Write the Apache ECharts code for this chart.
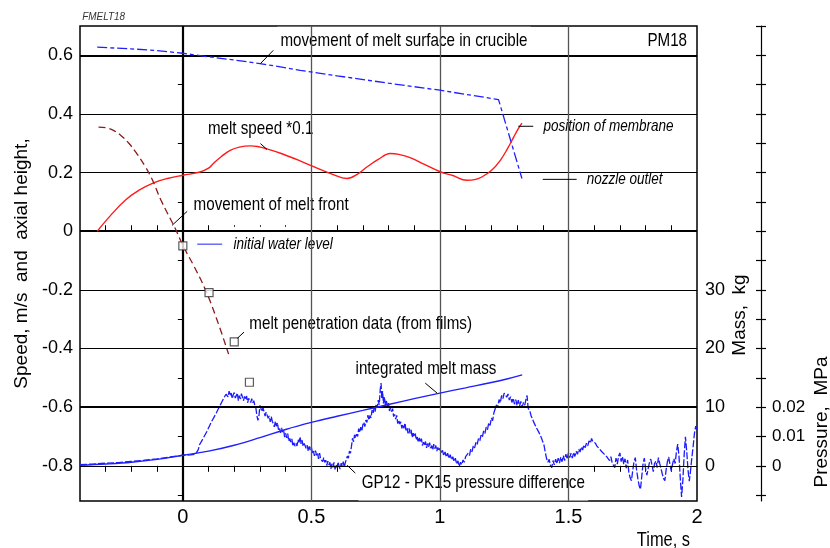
<!DOCTYPE html>
<html>
<head>
<meta charset="utf-8">
<script src="https://cdn.jsdelivr.net/npm/echarts@6/dist/echarts.min.js"></script>
<style>
  html, body { margin: 0; padding: 0; background: #fff; }
  #chart { width: 830px; height: 548px; }
</style>
</head>
<body>
<div id="chart"></div>
<script>
// ---- tick labels ----
const timeTicks = [0, 0.5, 1, 1.5, 2];
const heightTicks = [-0.8, -0.6, -0.4, -0.2, 0, 0.2, 0.4, 0.6];
const massTicks = [0, 10, 20, 30];
const pressureTicks = [0, 0.01, 0.02];

// ---- series: [time s, value] ----
// movement of melt surface in crucible (axial height, m)
const meltSurface = [
  [-0.333, 0.628], [-0.2, 0.622], [-0.1, 0.616], [0, 0.607], [0.1, 0.595], [0.2, 0.584],
  [0.3, 0.572], [0.457, 0.549], [0.6, 0.53], [0.8, 0.505], [1.0, 0.481], [1.228, 0.449],
  [1.319, 0.18]
];
// melt speed * 0.1 (m/s)
const meltSpeed = [
  [-0.333, 0.0], [-0.28, 0.055], [-0.224, 0.106], [-0.17, 0.14], [-0.114, 0.165], [-0.06, 0.18],
  [0, 0.191], [0.067, 0.202], [0.1, 0.215], [0.119, 0.231], [0.15, 0.255], [0.184, 0.276],
  [0.22, 0.287], [0.262, 0.291], [0.29, 0.289], [0.327, 0.281], [0.38, 0.266], [0.456, 0.24],
  [0.52, 0.216], [0.58, 0.195], [0.638, 0.18], [0.68, 0.195], [0.716, 0.219], [0.76, 0.245],
  [0.807, 0.265], [0.84, 0.262], [0.884, 0.251], [0.94, 0.228], [1.001, 0.203], [1.05, 0.19],
  [1.105, 0.174], [1.135, 0.176], [1.163, 0.185], [1.2, 0.207], [1.235, 0.242], [1.265, 0.285],
  [1.287, 0.321], [1.305, 0.35], [1.319, 0.369]
];
// movement of melt front (axial height, m)
const meltFront = [
  [-0.328, 0.355], [-0.3, 0.353], [-0.27, 0.344], [-0.24, 0.326], [-0.21, 0.3], [-0.18, 0.266],
  [-0.15, 0.226], [-0.12, 0.178], [-0.085, 0.106], [-0.03, 0.01], [0, -0.048], [0.045, -0.122],
  [0.087, -0.198], [0.13, -0.295], [0.178, -0.419]
];
// melt penetration data from films (axial height, m)
const filmPoints = [[0.0, -0.05], [0.102, -0.209], [0.2, -0.377], [0.259, -0.515]];
// integrated melt mass (kg)
const meltMass = [
  [-0.4, 0.1], [-0.3, 0.3], [-0.2, 0.6], [-0.1, 1.1], [0, 1.8], [0.1, 2.5], [0.2, 3.5],
  [0.3, 4.8], [0.4, 6.2], [0.5, 7.4], [0.6, 8.45], [0.7, 9.45], [0.8, 10.45], [0.9, 11.45],
  [1.0, 12.4], [1.1, 13.3], [1.2, 14.2], [1.26, 14.8], [1.32, 15.5]
];
// GP12 - PK15 pressure difference (MPa)
const pressureDiff = [
  [-0.40,0.0004],[-0.35,0.0006],[-0.30,0.0009],[-0.25,0.0011],[-0.20,0.0015],[-0.15,0.0019],
  [-0.10,0.0024],[-0.05,0.0030],[0.00,0.0036],[0.03,0.0037],[0.05,0.0040],[0.06,0.0055],
  [0.065,0.0072],[0.08,0.0095],[0.093,0.0116],[0.11,0.0148],[0.13,0.0180],[0.145,0.0206],
  [0.16,0.0232],[0.168,0.0244],
  [0.172,.0250],[0.176,.0235],[0.18,.0255],[0.184,.0239],[0.188,.0248],[0.192,.0229],[0.196,.0242],
  [0.20,.0250],[0.204,.0231],[0.208,.0236],[0.212,.0248],[0.216,.0222],[0.22,.0239],[0.224,.0228],
  [0.228,.0246],[0.232,.0233],[0.236,.0222],[0.24,.0237],[0.244,.0226],[0.248,.0238],[0.252,.0215],
  [0.256,.0230],[0.26,.0234],[0.264,.0216],[0.268,.0229],[0.272,.0215],[0.276,.0222],[0.28,.0206],
  [0.284,.0198],[0.288,.0172],[0.292,.0155],[0.296,.0170],[0.30,.0206],[0.304,.0208],[0.308,.0185],
  [0.312,.0198],[0.316,.0183],[0.32,.0170],[0.324,.0183],[0.328,.0187],[0.332,.0162],[0.336,.0170],
  [0.34,.0150],[0.344,.0168],[0.348,.0152],[0.352,.0158],[0.356,.0133],[0.36,.0152],[0.364,.0135],
  [0.368,.0147],[0.372,.0123],[0.376,.0131],[0.38,.0112],[0.384,.0129],[0.388,.0115],[0.392,.0123],
  [0.396,.0098],[0.40,.0111],[0.404,.0095],[0.408,.0110],[0.412,.0084],[0.416,.0093],[0.42,.0081],
  [0.424,.0092],[0.428,.0067],[0.432,.0079],[0.436,.0067],[0.44,.0076],[0.444,.0068],[0.448,.0089],
  [0.452,.0080],[0.456,.0099],[0.46,.0075],[0.464,.0087],[0.468,.0066],[0.472,.0076],[0.476,.0082],
  [0.48,.0059],[0.484,.0070],[0.488,.0050],[0.492,.0066],[0.496,.0054],[0.50,.0064],[0.504,.0043],
  [0.508,.0050],[0.512,.0034],[0.516,.0052],[0.52,.0036],[0.524,.0043],[0.528,.0024],[0.532,.0043],
  [0.536,.0023],[0.54,.0029],[0.544,.0014],[0.548,.0028],[0.552,.0012],[0.556,.0019],[0.56,.0001],
  [0.564,.0016],[0.568,.0003],[0.572,.0012],[0.576,-.0010],[0.58,.0007],[0.584,-.0005],[0.588,.0012],
  [0.592,-.0012],[0.596,.0004],[0.60,-.0006],[0.604,.0013],[0.608,-.0003],[0.612,-.0011],[0.616,.0009],
  [0.62,-.0001],[0.624,.0014],[0.628,-.0006],[0.632,.0011],[0.636,.0006],[0.64,.0033],[0.644,.0026],
  [0.648,.0050],[0.652,.0043],[0.656,.0067],[0.66,.0094],[0.664,.0082],[0.668,.0106],[0.672,.0095],
  [0.676,.0108],[0.68,.0100],[0.684,.0127],[0.688,.0114],[0.692,.0132],[0.696,.0118],[0.70,.0139],
  [0.704,.0149],[0.708,.0134],[0.712,.0156],[0.716,.0148],[0.72,.0173],[0.724,.0156],[0.728,.0172],
  [0.732,.0163],[0.736,.0190],[0.74,.0179],[0.744,.0198],[0.748,.0185],[0.752,.0211],[0.756,.0198],
  [0.76,.0224],[0.764,.0208],[0.768,.0262],[0.771,.0282],[0.774,.0229],[0.777,.0255],[0.78,.0213],
  [0.784,.0235],[0.788,.0206],[0.792,.0221],[0.796,.0201],[0.80,.0214],[0.804,.0187],[0.808,.0199],
  [0.812,.0185],[0.816,.0195],[0.82,.0168],[0.824,.0175],[0.828,.0159],[0.832,.0172],[0.836,.0144],
  [0.84,.0156],[0.844,.0142],[0.848,.0150],[0.852,.0128],[0.856,.0141],[0.86,.0128],[0.864,.0146],
  [0.868,.0121],[0.872,.0129],[0.876,.0111],[0.88,.0128],[0.884,.0111],[0.888,.0123],[0.892,.0097],
  [0.896,.0111],[0.90,.0099],[0.904,.0110],[0.908,.0088],[0.912,.0098],[0.916,.0080],[0.92,.0095],
  [0.924,.0080],[0.928,.0093],[0.932,.0069],[0.936,.0081],[0.94,.0069],[0.944,.0083],[0.948,.0061],
  [0.952,.0076],[0.956,.0065],[0.96,.0079],[0.964,.0060],[0.968,.0069],[0.972,.0054],[0.976,.0074],
  [0.98,.0059],[0.984,.0069],[0.988,.0050],[0.992,.0063],[0.996,.0051],
  [1.00,0.0060],[1.005,0.0042],[1.01,0.0053],[1.015,0.0034],[1.02,0.0047],[1.025,0.0030],
  [1.03,0.0043],[1.035,0.0025],[1.04,0.0038],[1.045,0.0021],[1.05,0.0031],[1.055,0.0014],
  [1.06,0.0026],[1.065,0.0006],[1.07,0.0017],[1.075,-0.0003],[1.08,0.0012],[1.085,0.0004],
  [1.09,0.0020],[1.095,0.0012],[1.10,0.0031],[1.105,0.0025],[1.11,0.0043],[1.115,0.0035],
  [1.12,0.0057],[1.125,0.0048],[1.13,0.0069],[1.135,0.0061],[1.14,0.0080],[1.145,0.0073],
  [1.15,0.0093],[1.155,0.0085],[1.16,0.0105],[1.165,0.0097],[1.17,0.0119],[1.175,0.0110],
  [1.18,0.0132],[1.185,0.0123],[1.19,0.0147],[1.195,0.0138],[1.20,0.0163],[1.205,0.0154],
  [1.21,0.0181],[1.215,0.0187],[1.22,0.0208],[1.225,0.0198],[1.23,0.0226],[1.235,0.0215],
  [1.24,0.0240],[1.245,0.0229],[1.25,0.0248],[1.255,0.0253],[1.26,0.0234],[1.265,0.0245],
  [1.27,0.0224],[1.275,0.0236],[1.28,0.0216],[1.285,0.0231],[1.29,0.0210],[1.295,0.0226],
  [1.30,0.0206],[1.305,0.0224],[1.31,0.0204],[1.315,0.0220],[1.32,0.0201],[1.325,0.0216],
  [1.33,0.0207],[1.335,0.0228],[1.339,0.0240],[1.343,0.0197],[1.35,0.0186],[1.355,0.0170],
  [1.36,0.0166],[1.365,0.0149],[1.37,0.0148],[1.375,0.0130],[1.38,0.0128],[1.385,0.0114],
  [1.39,0.0110],[1.395,0.0095],[1.40,0.0090],[1.405,0.0070],[1.41,0.0046],[1.415,0.0024],
  [1.42,0.0012],[1.425,0.0022],[1.43,0.0001],[1.435,-0.0006],[1.44,0.0018],[1.445,0.0003],
  [1.45,0.0023],[1.455,0.0007],[1.46,0.0026],[1.465,0.0009],[1.47,0.0030],[1.475,0.0014],
  [1.48,0.0035],[1.485,0.0018],[1.49,0.0040],[1.495,0.0023],[1.50,0.0045],[1.505,0.0028],
  [1.51,0.0043],[1.515,0.0026],[1.52,0.0046],[1.525,0.0032],[1.53,0.0050],[1.535,0.0039],
  [1.54,0.0057],[1.545,0.0047],[1.55,0.0064],[1.555,0.0054],[1.56,0.0071],[1.565,0.0062],
  [1.57,0.0077],[1.575,0.0068],[1.58,0.0085],[1.585,0.0077],[1.59,0.0093],[1.595,0.0082],
  [1.60,0.0078],[1.605,0.0077],[1.61,0.0068],[1.615,0.0068],[1.62,0.0058],[1.625,0.0059],
  [1.63,0.0048],[1.635,0.0050],[1.64,0.0039],[1.645,0.0042],[1.65,0.0030],[1.655,0.0034],
  [1.66,0.0018],[1.665,0.0031],[1.67,0.0010],[1.675,0.0006],[1.68,-0.0006],[1.685,0.0026],
  [1.69,0.0006],[1.695,0.0033],[1.70,0.0044],[1.705,0.0014],[1.71,0.0031],[1.715,0.0006],
  [1.72,0.0024],[1.725,-0.0008],[1.73,0.0020],[1.735,-0.0023],[1.74,-0.0041],[1.745,-0.0051],
  [1.75,-0.0016],[1.755,0.0014],[1.76,0.0028],[1.765,-0.0014],[1.77,-0.0044],[1.775,-0.0068],
  [1.78,-0.0080],[1.785,-0.0038],[1.79,0.0006],[1.795,0.0026],[1.80,-0.0010],[1.805,-0.0032],
  [1.81,-0.0010],[1.815,0.0011],[1.82,0.0023],[1.825,0.0002],[1.83,-0.0020],[1.835,0.0008],
  [1.84,0.0016],[1.845,-0.0006],[1.85,0.0028],[1.855,0.0008],[1.86,-0.0010],[1.865,-0.0028],
  [1.87,-0.0044],[1.875,-0.0051],[1.88,-0.0013],[1.885,0.0014],[1.89,0.0030],[1.895,0.0004],
  [1.90,-0.0018],[1.905,0.0006],[1.91,0.0024],[1.915,0.0008],[1.92,0.0048],[1.925,0.0074],
  [1.93,0.0032],[1.935,-0.0042],[1.94,-0.0106],[1.945,-0.0050],[1.95,0.0037],[1.955,0.0099],
  [1.96,0.0050],[1.965,-0.0014],[1.97,-0.0052],[1.975,-0.0016],[1.98,0.0028],[1.985,0.0066],
  [1.99,0.0110],[1.995,0.0135],[2.00,0.0118]
];
// reference levels of the rig (axial height, m)
const membraneLevel = 0.358;
const nozzleLevel = 0.177;
const waterLevelMark = -0.044;

// ---- helpers ----
const FONT = "'Liberation Sans', Arial, sans-serif";
const NARROW_SCALE = 0.82;   // condensed lettering of the annotations
function range(a, b, step) {
  const out = [];
  for (let v = a; v <= b + 1e-9; v += step) out.push(Math.round(v * 1000) / 1000);
  return out;
}
const minorTime = range(-0.3, 1.9, 0.1);
const frameMassTicks = [65, 55, 45, 35, 25, 15, 5, -5];
const pressureMinor = range(-0.01, 0.15, 0.01);

const chart = echarts.init(document.getElementById('chart'), null, { renderer: 'canvas' });

const thick = { color: '#000', width: 2.2, type: 'solid' };
const thin = { color: '#000', width: 1.2, type: 'solid' };
const vthin = { color: '#555', width: 1.3, type: 'solid' };

const option = {
  animation: false,
  backgroundColor: '#fff',
  textStyle: { fontFamily: FONT },
  grid: {
    left: 80, right: 133, top: 26, bottom: 47,
    show: true, borderColor: '#000', borderWidth: 1.5, backgroundColor: 'transparent'
  },
  xAxis: [
    {
      type: 'value', min: -0.4, max: 2, position: 'bottom',
      axisLine: { show: false },
      splitLine: { show: false },
      axisTick: { show: true, inside: true, length: 6, customValues: minorTime, lineStyle: { color: '#000', width: 1 } },
      axisLabel: { customValues: timeTicks, fontSize: 20, color: '#000', margin: 6 }
    },
    {
      type: 'value', min: -0.4, max: 2, position: 'top',
      axisLine: { show: false },
      splitLine: { show: false },
      axisTick: { show: true, inside: true, length: 6, customValues: minorTime, lineStyle: { color: '#000', width: 1 } },
      axisLabel: { show: false }
    }
  ],
  yAxis: [
    {
      type: 'value', min: -0.92, max: 0.7, position: 'left',
      name: 'Speed, m/s  and  axial height,', nameLocation: 'middle', nameGap: 48,
      nameTextStyle: { fontSize: 19, color: '#000', fontFamily: FONT },
      axisLine: { show: false }, axisTick: { show: false }, splitLine: { show: false },
      axisLabel: { customValues: heightTicks, fontSize: 18, color: '#000', margin: 7 }
    },
    {
      // mass scale on the plot frame
      type: 'value', min: -6, max: 75, position: 'right', offset: 0,
      axisLine: { show: false }, splitLine: { show: false },
      axisTick: { show: true, inside: true, length: 5, customValues: frameMassTicks, lineStyle: { color: '#000', width: 1 } },
      axisLabel: { customValues: massTicks, fontSize: 18, color: '#000', margin: 8 }
    },
    {
      // pressure scale, outer side
      type: 'value', min: -0.012, max: 0.15, position: 'right', offset: 64,
      axisLine: { show: true, lineStyle: { color: '#000', width: 1.2 } }, splitLine: { show: false },
      axisTick: { show: true, inside: false, length: 5, customValues: pressureMinor, lineStyle: { color: '#000', width: 1.2 } },
      axisLabel: { customValues: pressureTicks, fontSize: 17, color: '#000', margin: 11 }
    },
    {
      // pressure scale, inner side of the ticks
      type: 'value', min: -0.012, max: 0.15, position: 'right', offset: 64,
      axisLine: { show: false }, splitLine: { show: false },
      axisTick: { show: true, inside: true, length: 5, customValues: pressureMinor, lineStyle: { color: '#000', width: 1.2 } },
      axisLabel: { show: false }
    }
  ],
  series: [
    {
      name: 'grid lines', type: 'line', data: [], z: 0, silent: true,
      markLine: {
        silent: true, symbol: 'none', animation: false, label: { show: false },
        data: [
          { yAxis: 0.6, lineStyle: thick }, { yAxis: 0.4, lineStyle: thin },
          { yAxis: 0.2, lineStyle: thin }, { yAxis: 0, lineStyle: thick },
          { yAxis: -0.2, lineStyle: thin }, { yAxis: -0.4, lineStyle: thin },
          { yAxis: -0.6, lineStyle: thick }, { yAxis: -0.8, lineStyle: thin },
          { xAxis: 0, lineStyle: thick }, { xAxis: 0.5, lineStyle: vthin },
          { xAxis: 1, lineStyle: vthin }, { xAxis: 1.5, lineStyle: vthin }
        ]
      }
    },
    {
      name: 'movement of melt surface in crucible', type: 'line', data: meltSurface, z: 5,
      showSymbol: false, smooth: false,
      lineStyle: { color: '#1f1fff', width: 1.3, type: [10, 3, 4, 3] }
    },
    {
      name: 'melt speed *0.1', type: 'line', data: meltSpeed, z: 5,
      showSymbol: false, smooth: 0.4,
      lineStyle: { color: '#ff1a1a', width: 1.4 }
    },
    {
      name: 'movement of melt front', type: 'line', data: meltFront, z: 5,
      showSymbol: false, smooth: 0.4,
      lineStyle: { color: '#8b1a1a', width: 1.3, type: [7, 4] }
    },
    {
      name: 'integrated melt mass', type: 'line', data: meltMass, yAxisIndex: 1, z: 5,
      showSymbol: false, smooth: 0.4,
      lineStyle: { color: '#1f1fff', width: 1.4 }
    },
    {
      name: 'GP12 - PK15 pressure difference', type: 'line', data: pressureDiff, yAxisIndex: 2, z: 4,
      showSymbol: false,
      lineStyle: { color: '#1a1aff', width: 1.3, type: [7, 2] }
    },
    {
      name: 'melt penetration data (from films)', type: 'scatter', data: filmPoints, z: 6,
      symbol: 'rect', symbolSize: 8,
      itemStyle: { color: '#fff', borderColor: '#333', borderWidth: 1.2 }
    }
  ]
};
chart.setOption(option);

// ---- annotations placed in data coordinates ----
function px(t, v) { return chart.convertToPixel({ xAxisIndex: 0, yAxisIndex: 0 }, [t, v]); }

function label(text, t, v, opts) {
  const p = px(t, v);
  opts = opts || {};
  const sx = opts.scale || NARROW_SCALE;
  const pad = opts.pad || [4, 4, 4, 4];
  return {
    type: 'text', x: p[0], y: p[1], scaleX: sx, z: 2, silent: true,
    style: {
      text: text,
      font: (opts.italic ? 'italic ' : '') + (opts.size || 18.5) + 'px ' + FONT,
      fill: opts.color || '#000', align: opts.align || 'left', verticalAlign: 'middle',
      backgroundColor: opts.noBg ? null : '#fff',
      padding: pad
    }
  };
}
function leader(t1, v1, t2, v2, color) {
  const a = px(t1, v1), b = px(t2, v2);
  return {
    type: 'line', z: 7, silent: true,
    shape: { x1: a[0], y1: a[1], x2: b[0], y2: b[1] },
    style: { stroke: color || '#000', lineWidth: 1 }
  };
}
function axisTitle(text, x, y, size) {
  return {
    type: 'text', x: x, y: y, rotation: Math.PI / 2, z: 2, silent: true,
    style: { text: text, font: size + 'px ' + FONT, fill: '#000', align: 'center', verticalAlign: 'middle' }
  };
}

const elements = [
  label('movement of melt surface in crucible', 0.367, 0.648, { pad: [4, 4, 6, 4] }),
  leader(0.302, 0.572, 0.352, 0.617),
  label('PM18', 1.974, 0.648, { align: 'right', noBg: true }),
  label('melt speed *0.1', 0.088, 0.348, { pad: [2, 3, 2, 3] }),
  leader(0.302, 0.299, 0.327, 0.279),
  label('position of membrane', 1.39, membraneLevel, { italic: true, size: 16.5, pad: [9, 4, 9, 4] }),
  leader(1.305, membraneLevel, 1.363, membraneLevel),
  label('nozzle outlet', 1.558, nozzleLevel, { italic: true, size: 16.5, pad: [6, 4, 6, 4] }),
  leader(1.4, nozzleLevel, 1.532, nozzleLevel),
  label('movement of melt front', 0.029, 0.089, { pad: [6, 4, 6, 4] }),
  leader(-0.042, 0.02, 0.017, 0.068),
  label('initial water level', 0.184, waterLevelMark, { italic: true, size: 16.5, pad: [9, 4, 9, 4] }),
  leader(0.056, waterLevelMark, 0.153, waterLevelMark, '#1f1fff'),
  label('melt penetration data (from films)', 0.246, -0.317, { pad: [8, 4, 8, 4] }),
  leader(0.212, -0.365, 0.238, -0.344),
  label('integrated melt mass', 0.659, -0.47, { pad: [6, 4, 6, 4] }),
  leader(0.943, -0.518, 0.989, -0.552),
  label('GP12 - PK15 pressure difference', 0.683, -0.859, { pad: [8, 4, 8, 4] }),
  leader(0.639, -0.798, 0.671, -0.825),
  label('FMELT18', -0.405, 0.73, { italic: true, size: 11, noBg: true, scale: 0.9, color: '#333' }),
  axisTitle('Mass,  kg', 740, 315, 19),
  axisTitle('Pressure,  MPa', 822, 422, 19),
  {
    type: 'text', x: 690, y: 540, scaleX: NARROW_SCALE, z: 2, silent: true,
    style: { text: 'Time, s', font: '20px ' + FONT, fill: '#000', align: 'right', verticalAlign: 'middle' }
  }
];
chart.setOption({ graphic: { elements: elements } });
</script>
</body>
</html>
